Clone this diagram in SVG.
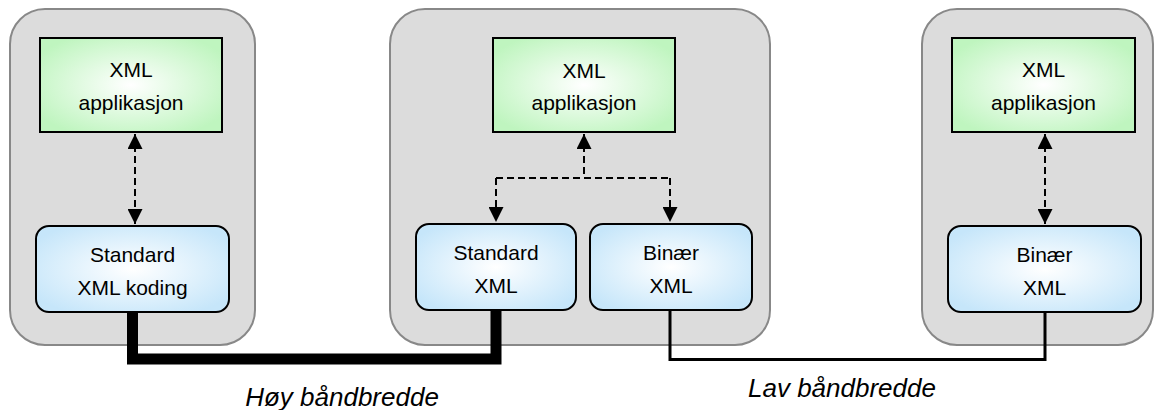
<svg xmlns="http://www.w3.org/2000/svg" width="1156" height="410" viewBox="0 0 1156 410">
<defs>
<radialGradient id="gGreen" cx="50%" cy="50%" r="60%">
<stop offset="0" stop-color="#ffffff"/>
<stop offset="1" stop-color="#bff5bf"/>
</radialGradient>
<radialGradient id="gBlue" cx="50%" cy="50%" r="60%">
<stop offset="0" stop-color="#ffffff"/>
<stop offset="1" stop-color="#c6e6fa"/>
</radialGradient>
<marker id="ah" viewBox="0 0 10 10" refX="10" refY="5" markerWidth="15" markerHeight="15" markerUnits="userSpaceOnUse" orient="auto-start-reverse">
<path d="M0,0 L10,5 L0,10 Z" fill="#000"/>
</marker>
<style>
.cont{fill:#dcdcdc;stroke:#888;stroke-width:2}
.app{fill:url(#gGreen);stroke:#000;stroke-width:2}
.enc{fill:url(#gBlue);stroke:#000;stroke-width:2}
.t{font-family:"Liberation Sans",Arial,sans-serif;font-size:21px;fill:#000;text-anchor:middle}
.lbl{font-family:"Liberation Sans",Arial,sans-serif;font-size:26px;font-style:italic;fill:#000;text-anchor:middle}
.dash{fill:none;stroke:#000;stroke-width:2;stroke-dasharray:7 4}
</style>
</defs>
<g id="containers">
<rect id="host1" class="cont" x="10" y="9" width="245" height="336" rx="35"/>
<rect id="host2" class="cont" x="390" y="9" width="380" height="336" rx="35"/>
<rect id="host3" class="cont" x="922" y="9" width="231" height="336" rx="35"/>
</g>
<g id="connectors">
<path class="dash" d="M135,134 V224" marker-start="url(#ah)" marker-end="url(#ah)"/>
<path class="dash" d="M584,134 V178" marker-start="url(#ah)"/>
<path class="dash" d="M496,178 H670"/>
<path class="dash" d="M496,178 V222" marker-end="url(#ah)"/>
<path class="dash" d="M670,178 V222" marker-end="url(#ah)"/>
<path class="dash" d="M1045,134 V224" marker-start="url(#ah)" marker-end="url(#ah)"/>
<path d="M132.5,312 V359 H496 V310" fill="none" stroke="#000" stroke-width="11" stroke-linejoin="miter"/>
<path d="M670,310 V359.5 H1045 V312" fill="none" stroke="#000" stroke-width="3"/>
</g>
<g id="app1">
<rect class="app" x="40" y="38" width="182" height="94"/>
<text class="t" x="131" y="77">XML</text>
<text class="t" x="131" y="110">applikasjon</text>
</g>
<g id="enc1">
<rect class="enc" x="36" y="226" width="193" height="86" rx="13"/>
<text class="t" x="132.5" y="262">Standard</text>
<text class="t" x="132.5" y="295">XML koding</text>
</g>
<g id="app2">
<rect class="app" x="493" y="38" width="182" height="94"/>
<text class="t" x="584" y="78">XML</text>
<text class="t" x="584" y="110">applikasjon</text>
</g>
<g id="enc2a">
<rect class="enc" x="416" y="224" width="160" height="86" rx="13"/>
<text class="t" x="496" y="260">Standard</text>
<text class="t" x="496" y="293">XML</text>
</g>
<g id="enc2b">
<rect class="enc" x="590" y="224" width="162" height="86" rx="13"/>
<text class="t" x="671" y="260">Binær</text>
<text class="t" x="671" y="293">XML</text>
</g>
<g id="app3">
<rect class="app" x="952" y="38" width="183" height="94"/>
<text class="t" x="1043.5" y="77">XML</text>
<text class="t" x="1043.5" y="110">applikasjon</text>
</g>
<g id="enc3">
<rect class="enc" x="948" y="226" width="193" height="86" rx="13"/>
<text class="t" x="1044.5" y="262">Binær</text>
<text class="t" x="1044.5" y="295">XML</text>
</g>
<g id="labels">
<text class="lbl" x="342" y="406">Høy båndbredde</text>
<text class="lbl" x="842" y="397">Lav båndbredde</text>
</g>
</svg>
